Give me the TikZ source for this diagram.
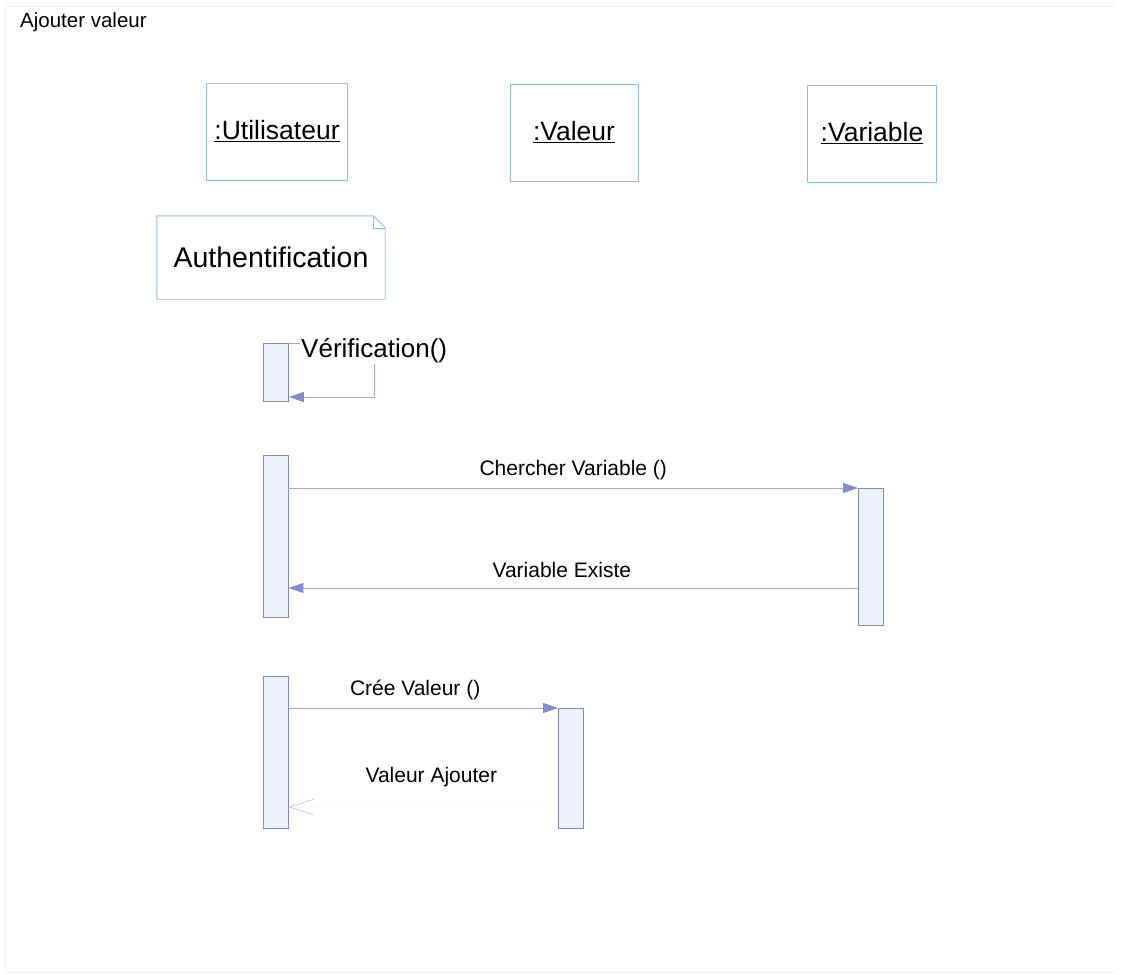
\documentclass[tikz,border=0pt]{standalone}
\usepackage{fontspec}
\setmainfont{Liberation Sans}
\usetikzlibrary{arrows.meta,positioning}

\definecolor{headblue}{RGB}{140,192,232}
\definecolor{barline}{RGB}{128,138,190}
\definecolor{barfill}{RGB}{238,240,250}
\definecolor{msgline}{RGB}{165,172,215}
\definecolor{tipfill}{RGB}{132,140,205}

\begin{document}
\begin{tikzpicture}
    [x=1pt, y=-1pt,
    head/.style={draw=headblue, line width=0.9pt, minimum height=97pt, inner sep=0pt,
        font=\fontsize{26.5}{30}\selectfont},
    bar/.style={draw=barline, fill=barfill, line width=0.8pt, minimum width=25pt, inner sep=0pt, anchor=north},
    msg/.style={draw=msgline, line width=0.8pt, -{Triangle[length=15pt,width=10pt,fill=tipfill,color=tipfill]}},
    reply/.style={draw=msgline!8, line width=0.6pt, -{Straight Barb[length=25pt,width=16pt,color=msgline!80]}},
    msglabel/.style={font=\fontsize{21}{24}\selectfont, inner sep=1pt}]
        \useasboundingbox (0,0) rectangle (1121,974);
        %% frame
        \draw[black!5, line width=0.8pt] (1115,6) -- (5,6) -- (5,972) -- (1115,972);
        \node[anchor=west, font=\fontsize{20.5}{24}\selectfont, inner sep=0pt] (title) at (20,22) {Ajouter valeur};

        %% Objects
        \node[head, minimum width=141pt] (U) at (277,131.5) {\underline{:Utilisateur}};
        \node[head, minimum width=128pt] (Val) at (574,132.5) {\underline{:Valeur}};
        \node[head, minimum width=129pt] (Var) at (872,133.5) {\underline{:Variable}};

        %% Note
        \node[minimum width=228pt, minimum height=83pt, inner sep=0pt,
            font=\fontsize{28.5}{32}\selectfont] (auth) at (271,257.5) {Authentification};
        \draw[draw=headblue, line width=0.9pt] (auth.north west) -- ([xshift=-12pt]auth.north east)
            -- ([yshift=-12pt]auth.north east) -- (auth.south east) -- (auth.south west) -- cycle;
        \draw[draw=headblue, line width=0.6pt] ([xshift=-12pt]auth.north east) |- ([yshift=-12pt]auth.north east);

        %% Activations
        \node[bar, minimum height=58pt] (verif) at (276,343) {};
        \node[bar, minimum height=162pt] (U1) at (275.5,455) {};
        \node[bar, minimum height=137pt] (Var1) at (871,488) {};
        \node[bar, minimum height=152pt] (U2) at (275.5,676) {};
        \node[bar, minimum height=120pt] (Val1) at (571,708) {};

        %% Messages
        \draw[msg] (verif.north east) -- ++(85,0) -- ++(0,54) -- ++(-85,0);
        \node[anchor=west, fill=white, inner sep=1pt, font=\fontsize{26}{30}\selectfont] (verlabel)
            at (300,351) {Vérification()};
        \draw[msg] (U1.east |- Var1.north) -- node[msglabel, above=7pt] (chlabel) {Chercher Variable ()} (Var1.north west);
        \draw[msg] (Var1.west |- 0,588) -- node[msglabel, above=9pt, pos=0.52] (exlabel) {Variable Existe} (U1.east |- 0,588);
        \draw[msg] (U2.east |- Val1.north) -- node[msglabel, above=7pt, pos=0.47] (crlabel) {Crée Valeur ()} (Val1.north west);
        \draw[reply] (Val1.west |- 0,807) -- node[msglabel, above=19pt, pos=0.47] (ajlabel) {Valeur Ajouter} (U2.east |- 0,807);
    \end{tikzpicture}
\end{document}
